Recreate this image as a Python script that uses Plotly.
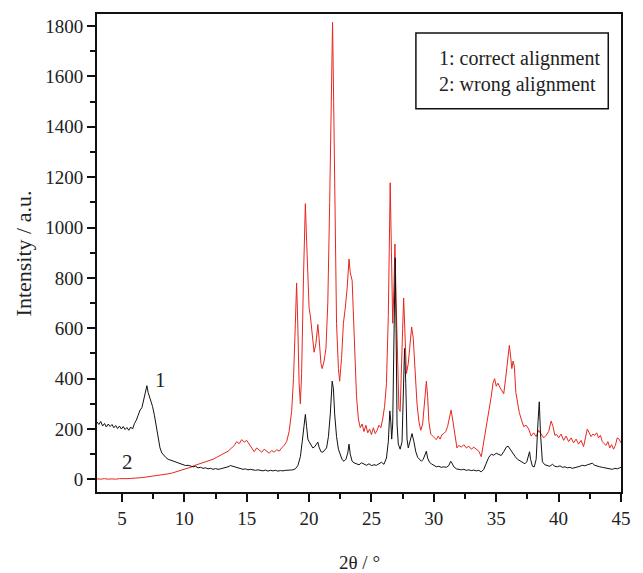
import plotly.graph_objects as go

# Series 1: correct alignment (black)
x1 = [3.0, 3.15, 3.3, 3.45, 3.6, 3.75, 3.9, 4.05, 4.2, 4.35, 4.5, 4.65, 4.8, 4.95, 5.1, 5.25, 5.4, 5.55, 5.7, 5.85,
      6.0, 6.15, 6.3, 6.45, 6.6, 6.75, 6.9, 7.0, 7.1, 7.2, 7.3, 7.45, 7.6, 7.75, 7.9, 8.05, 8.2, 8.35, 8.5, 8.7,
      8.9, 9.1, 9.3, 9.5, 9.7, 9.9, 10.1, 10.3, 10.5, 10.7, 10.9, 11.1, 11.3, 11.5, 11.7, 11.9, 12.1, 12.3, 12.5, 12.7,
      12.9, 13.1, 13.3, 13.5, 13.7, 13.9, 14.1, 14.3, 14.5, 14.7, 14.9, 15.1, 15.3, 15.5, 15.7, 15.9, 16.1, 16.3, 16.5, 16.7,
      16.9, 17.1, 17.3, 17.5, 17.7, 17.9, 18.1, 18.3, 18.5, 18.7, 18.9, 19.1, 19.3, 19.45, 19.6, 19.7, 19.8, 19.9, 20.0, 20.15,
      20.3, 20.45, 20.6, 20.7, 20.8, 20.95, 21.1, 21.25, 21.4, 21.55, 21.7, 21.85, 21.95, 22.05, 22.2, 22.35, 22.5, 22.65, 22.8, 22.95,
      23.1, 23.2, 23.3, 23.45, 23.6, 23.8, 24.0, 24.2, 24.4, 24.6, 24.8, 25.0, 25.2, 25.4, 25.6, 25.8, 26.0, 26.2, 26.35, 26.47,
      26.55, 26.62, 26.7, 26.8, 26.9, 26.97, 27.05, 27.15, 27.3, 27.45, 27.55, 27.65, 27.75, 27.85, 27.95, 28.1, 28.25, 28.4, 28.55, 28.7,
      28.85, 29.0, 29.15, 29.3, 29.4, 29.5, 29.65, 29.8, 30.0, 30.2, 30.4, 30.6, 30.8, 31.0, 31.2, 31.35, 31.45, 31.6, 31.8, 32.0,
      32.2, 32.4, 32.6, 32.8, 33.0, 33.2, 33.4, 33.6, 33.8, 34.0, 34.2, 34.4, 34.6, 34.8, 35.0, 35.2, 35.4, 35.6, 35.8, 35.95,
      36.1, 36.3, 36.5, 36.7, 36.9, 37.1, 37.3, 37.45, 37.6, 37.67, 37.75, 37.9, 38.05, 38.2, 38.35, 38.45, 38.55, 38.7, 38.9, 39.1,
      39.3, 39.5, 39.7, 39.9, 40.1, 40.3, 40.5, 40.7, 40.9, 41.1, 41.3, 41.5, 41.7, 41.9, 42.1, 42.3, 42.5, 42.7, 42.9, 43.1,
      43.3, 43.5, 43.7, 43.9, 44.1, 44.3, 44.5, 44.7, 44.9, 45.0]
y1 = [228, 218, 230, 212, 222, 208, 220, 210, 218, 205, 214, 202, 212, 200, 210, 198, 206, 195, 208, 200,
      222, 235, 255, 275, 285, 320, 350, 372, 345, 330, 310, 290, 255, 210, 165, 125, 105, 95, 88, 80,
      76, 72, 68, 64, 62, 58, 55, 56, 52, 50, 52, 46, 48, 44, 46, 42, 44, 40, 43, 40,
      42, 44, 46, 50, 55, 52, 48, 44, 42, 40, 42, 38, 40, 37, 36, 38, 35, 34, 37, 33,
      36, 34, 36, 33, 35, 34, 36, 35, 37, 38, 42, 55, 90, 150, 230, 258, 210, 160, 150, 135,
      125, 130, 140, 148, 128, 110, 108, 115, 125, 170, 260, 390, 360, 260, 170, 120, 95, 78, 72, 80,
      105, 140, 100, 72, 66, 62, 58, 66, 60, 56, 62, 55, 58, 56, 62, 68, 60, 85, 150, 272,
      230, 160, 220, 500, 880, 600, 220, 140, 120, 150, 300, 520, 380, 160, 125, 150, 182, 150, 110, 88,
      78, 72, 80, 100, 112, 85, 68, 62, 55, 50, 52, 48, 50, 48, 55, 72, 65, 50, 42, 40,
      38, 40, 36, 38, 35, 37, 34, 36, 30, 40, 62, 88, 100, 96, 104, 98, 95, 110, 128, 132,
      120, 108, 92, 80, 74, 68, 62, 70, 100, 110, 80, 52, 50, 80, 230, 308, 180, 70, 58, 55,
      52, 60, 52, 50, 54, 48, 50, 46, 48, 44, 46, 48, 52, 56, 54, 58, 62, 64, 56, 52,
      50, 48, 46, 44, 42, 40, 44, 42, 46, 48]

# Series 2: wrong alignment (red)
x2 = [3.0, 3.3, 3.6, 3.9, 4.2, 4.5, 4.8, 5.1, 5.4, 5.7, 6.0, 6.3, 6.6, 6.9, 7.2, 7.5, 7.8, 8.1, 8.4, 8.7,
      9.0, 9.3, 9.6, 9.9, 10.2, 10.5, 10.8, 11.1, 11.4, 11.7, 12.0, 12.3, 12.6, 12.9, 13.2, 13.5, 13.8, 14.0, 14.2, 14.4,
      14.6, 14.8, 15.0, 15.2, 15.4, 15.6, 15.8, 16.0, 16.2, 16.4, 16.6, 16.8, 17.0, 17.2, 17.4, 17.6, 17.8, 18.0, 18.2, 18.4,
      18.6, 18.75, 18.9, 19.0, 19.1, 19.2, 19.3, 19.4, 19.55, 19.7, 19.8, 19.9, 20.0, 20.1, 20.25, 20.4, 20.55, 20.7, 20.8, 20.95,
      21.05, 21.2, 21.35, 21.5, 21.65, 21.8, 21.88, 21.97, 22.07, 22.2, 22.35, 22.45, 22.6, 22.75, 22.9, 23.05, 23.2, 23.3, 23.45, 23.55,
      23.65, 23.8, 23.95, 24.1, 24.25, 24.4, 24.55, 24.7, 24.85, 25.0, 25.15, 25.3, 25.45, 25.6, 25.75, 25.9, 26.05, 26.2, 26.35, 26.5,
      26.6, 26.7, 26.8, 26.88, 26.97, 27.1, 27.2, 27.3, 27.4, 27.5, 27.58, 27.68, 27.8, 27.95, 28.1, 28.22, 28.35, 28.5, 28.65, 28.8,
      28.95, 29.1, 29.25, 29.4, 29.5, 29.6, 29.75, 29.9, 30.05, 30.2, 30.35, 30.5, 30.65, 30.8, 30.95, 31.1, 31.25, 31.38, 31.5, 31.62,
      31.75, 31.85, 32.0, 32.2, 32.4, 32.6, 32.8, 33.0, 33.2, 33.4, 33.6, 33.8, 34.0, 34.2, 34.4, 34.6, 34.75, 34.87, 35.0, 35.13,
      35.3, 35.45, 35.6, 35.75, 35.85, 35.95, 36.05, 36.15, 36.25, 36.35, 36.45, 36.57, 36.7, 36.85, 37.0, 37.2, 37.4, 37.6, 37.8, 38.0,
      38.2, 38.4, 38.6, 38.8, 39.0, 39.2, 39.4, 39.55, 39.7, 39.85, 40.0, 40.2, 40.4, 40.6, 40.8, 41.0, 41.2, 41.4, 41.6, 41.8,
      42.0, 42.15, 42.3, 42.45, 42.6, 42.75, 42.9, 43.05, 43.2, 43.35, 43.5, 43.65, 43.8, 43.95, 44.1, 44.25, 44.4, 44.55, 44.7, 44.85,
      45.0]
y2 = [2, 1, 3, 1, 2, 1, 3, 2, 3, 4, 4, 6, 7, 9, 10, 12, 14, 16, 19, 22,
      25, 29, 33, 38, 44, 48, 55, 60, 64, 70, 76, 80, 88, 95, 102, 112, 125, 135, 150, 142,
      158, 148, 155, 140, 125, 110, 125, 118, 108, 120, 112, 104, 115, 108, 118, 112, 125, 135, 150, 190,
      270, 400, 620, 780, 600, 380, 300, 420, 800, 1095, 950, 760, 680, 650, 560, 505, 540, 615, 560, 460,
      440, 470, 520, 700, 1100, 1600, 1815, 1500, 1000, 620, 440, 390, 480, 620, 680, 760, 875, 820, 790, 650,
      480, 330, 240, 205, 220, 190, 215, 185, 200, 178, 205, 182, 195, 215, 205, 240, 290, 380, 650, 1178,
      900, 620, 760, 935, 720, 400, 280, 270, 400, 600, 720, 560, 420, 460, 540, 605, 560, 430, 300, 230,
      195, 220, 300, 390, 330, 230, 180, 170, 165, 158, 172, 160, 178, 182, 190, 210, 250, 275, 240, 205,
      150, 125, 135, 128, 138, 125, 132, 120, 128, 118, 112, 90, 150, 195, 270, 330, 385, 400, 370, 382,
      365, 350, 340, 400, 450, 510, 532, 490, 440, 470, 450, 345, 300, 265, 240, 210, 215, 200, 172, 185,
      170, 195, 180, 165, 175, 190, 232, 210, 175, 178, 165, 180, 155, 172, 150, 165, 145, 160, 140, 155,
      130, 165, 200, 185, 170, 180, 175, 185, 165, 175, 150, 142, 135, 150, 125, 138, 120, 135, 165, 160,
      145]

x_ticks = [5, 10, 15, 20, 25, 30, 35, 40, 45]
y_ticks = [0, 200, 400, 600, 800, 1000, 1200, 1400, 1600, 1800]

FONT = "Liberation Serif"
TXT = "#222222"

fig = go.Figure()
fig.add_trace(go.Scatter(x=x2, y=y2, mode="lines", line=dict(color="#e8261e", width=1),
                         name="2: wrong alignment", showlegend=False))
fig.add_trace(go.Scatter(x=x1, y=y1, mode="lines", line=dict(color="#111111", width=1),
                         name="1: correct alignment", showlegend=False))

axis_common = dict(showline=True, linecolor="#111111", linewidth=2, mirror=True,
                   ticks="outside", ticklen=8, tickwidth=2, tickcolor="#111111",
                   showgrid=False, zeroline=False,
                   tickfont=dict(family=FONT, size=19, color=TXT))

fig.update_xaxes(range=[3, 45], tickvals=x_ticks,
                 minor=dict(ticks="outside", ticklen=5, tickwidth=2, tickcolor="#111111", dtick=2.5, tick0=2.5),
                 **axis_common)
fig.update_yaxes(range=[-50, 1848], tickvals=y_ticks,
                 minor=dict(ticks="outside", ticklen=5, tickwidth=2, tickcolor="#111111", dtick=100, tick0=100),
                 **axis_common)

fig.add_annotation(x=0.5, y=-0.148, xref="paper", yref="paper", text="2θ / °", showarrow=False,
                   font=dict(family=FONT, size=19, color=TXT), xanchor="center", yanchor="middle")
fig.add_annotation(x=-0.1404, y=0.5, xref="paper", yref="paper", text="Intensity / a.u.", showarrow=False,
                   textangle=-90, font=dict(family=FONT, size=22, color=TXT), xanchor="center", yanchor="middle")

fig.add_annotation(x=8.06, y=393, text="1", showarrow=False, font=dict(family=FONT, size=21, color=TXT))
fig.add_annotation(x=5.44, y=69, text="2", showarrow=False, font=dict(family=FONT, size=21, color=TXT))

# legend-like box
fig.add_shape(type="rect", xref="paper", yref="paper", x0=0.6086, x1=0.9757, y0=0.8017, y1=0.9603,
              line=dict(color="#111111", width=1.5), fillcolor="white", layer="above")
fig.add_annotation(x=0.648, y=0.879, xref="paper", yref="paper",
                   text="1: correct alignment<br>2: wrong alignment", showarrow=False, align="left",
                   xanchor="left", yanchor="middle", font=dict(family=FONT, size=20, color=TXT))

fig.update_layout(width=643, height=573, margin=dict(l=97, r=12, t=13, b=81),
                  paper_bgcolor="white", plot_bgcolor="white", showlegend=False,
                  font=dict(family=FONT))

fig.write_html("out.html")
